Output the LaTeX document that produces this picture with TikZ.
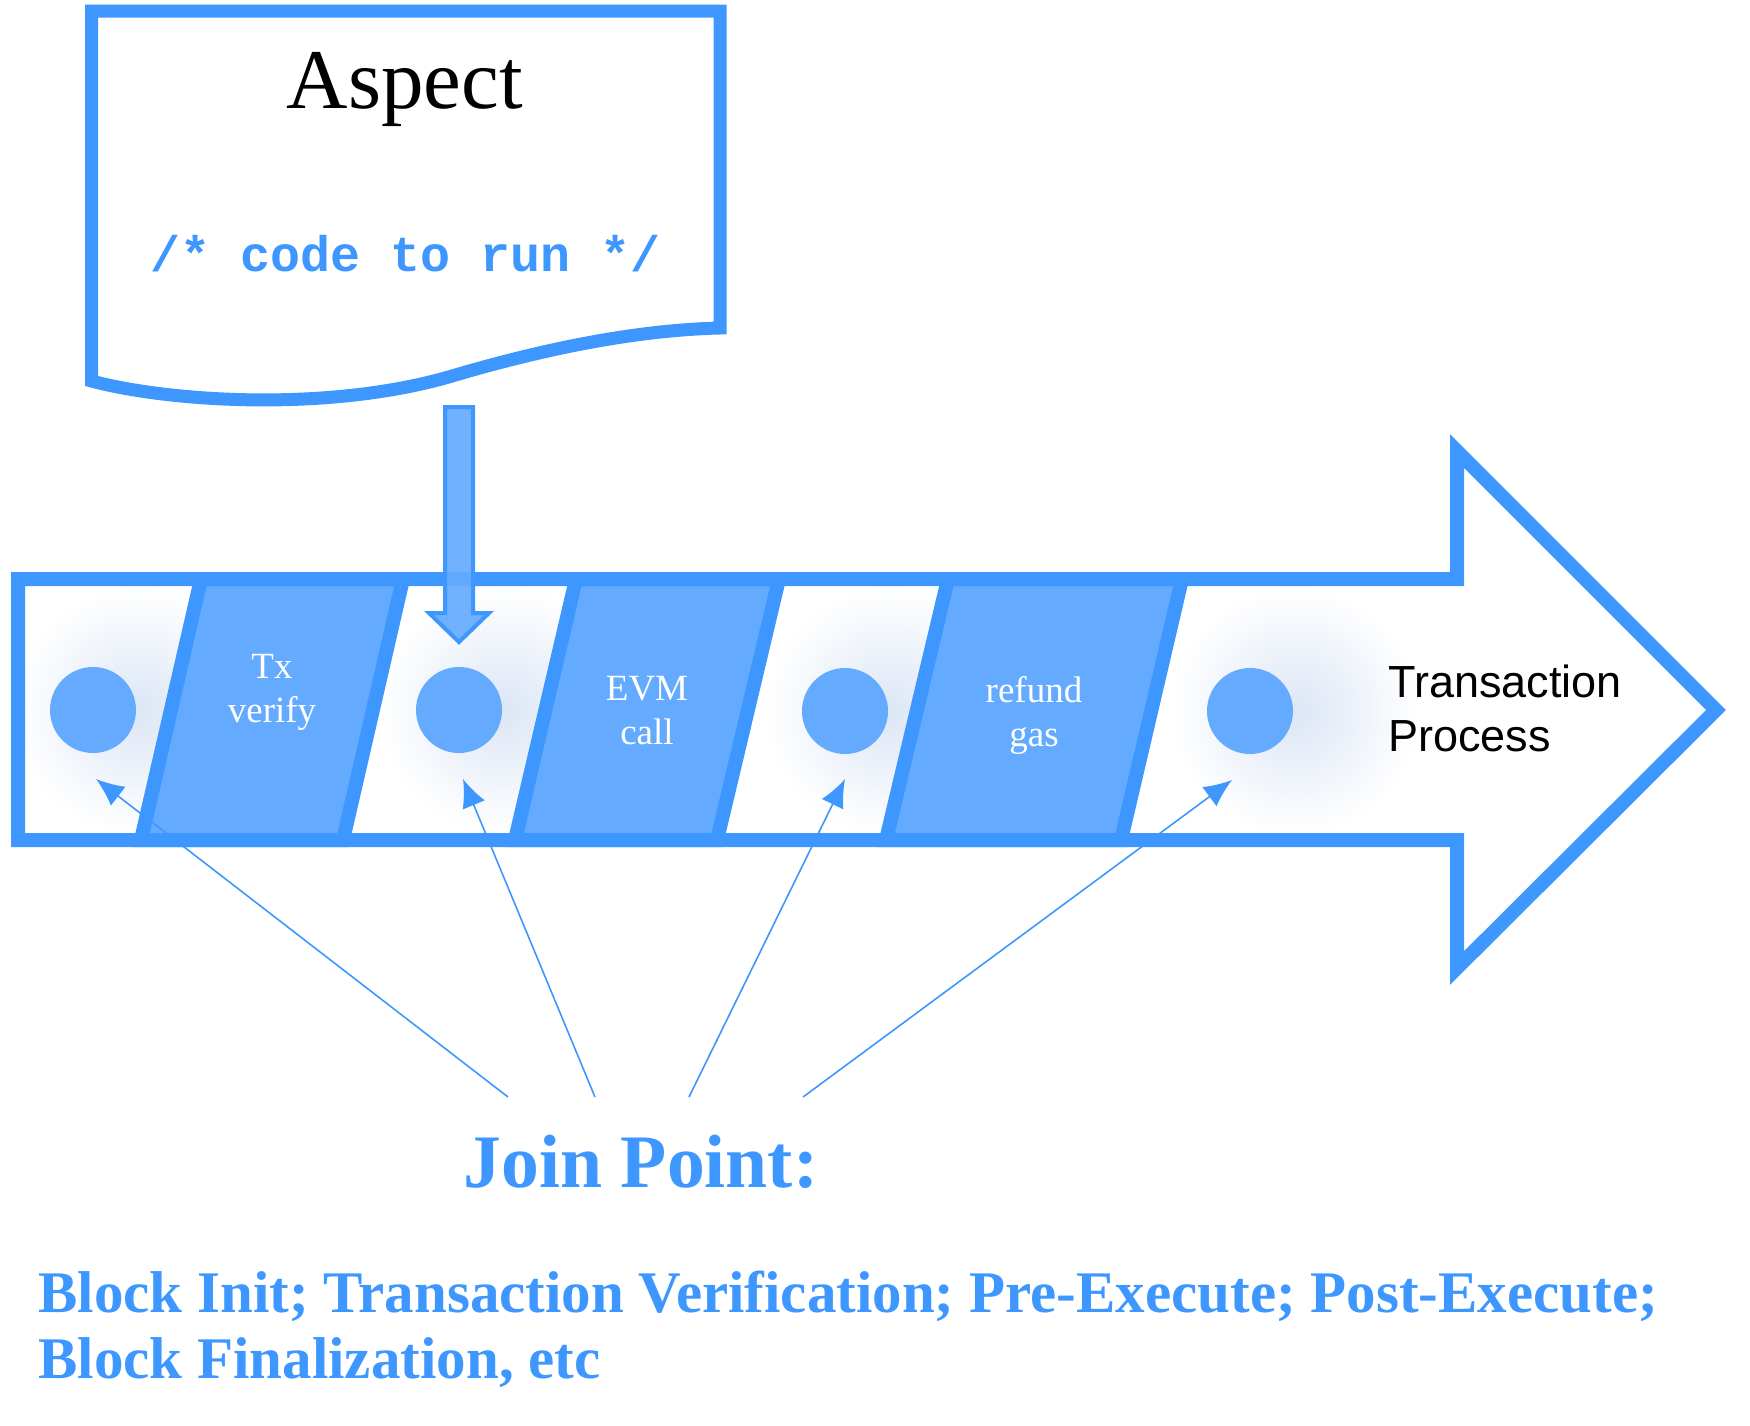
\documentclass[tikz,border=0pt]{standalone}
\usepackage{fontspec}
\setmainfont{Liberation Serif}
\setsansfont{Liberation Sans}
\setmonofont{Liberation Mono}
\usetikzlibrary{calc,arrows.meta,fadings}
\definecolor{aspblue}{RGB}{62,151,255}
\definecolor{aspfill}{RGB}{100,171,255}
\definecolor{aspglow}{RGB}{220,230,245}
\tikzfading[name=jpfade,inner color=transparent!0,outer color=transparent!100]

\begin{document}
\begin{tikzpicture}[x=0.5pt,y=-0.5pt,
  body/.style={draw=aspblue,line width=7pt,miter limit=10},
  stage/.style={fill=aspfill,draw=aspblue,line width=7pt},
  jpdot/.style={circle,fill=aspfill,inner sep=0pt,minimum size=43pt},
  glow/.style={fill=aspglow,path fading=jpfade},
  jparrow/.style={draw=aspblue,line width=0.8pt,-{Latex[length=14pt,width=12pt]}},
  stagetext/.style={white,align=center,anchor=base,inner sep=0pt,font=\fontsize{18.5pt}{22pt}\selectfont}]
\useasboundingbox (0,0) rectangle (1750,1425);

\coordinate (c1) at (93,710);
\coordinate (c2) at (459,710);
\coordinate (c3) at (845,711);
\coordinate (c4) at (1250,711);

\begin{scope}
\clip (25,586) rectangle (1450,833);
\fill[glow] ($(c1)+(45,0)$) circle (62pt);
\fill[glow] ($(c2)+(45,0)$) circle (62pt);
\fill[glow] ($(c3)+(45,0)$) circle (62pt);
\fill[glow] ($(c4)+(45,0)$) circle (62pt);
\end{scope}

\draw[stage] (141,840) -- (201,579) -- (403,579) -- (343,840) -- cycle;
\draw[stage] (515,840) -- (576,579) -- (779,579) -- (717,840) -- cycle;
\draw[stage] (886,840) -- (948,579) -- (1182,579) -- (1121,840) -- cycle;

\draw[body] (18,579) -- (1457,579) -- (1457,451) -- (1716,710)
  -- (1457,968) -- (1457,840) -- (18,840) -- cycle;

\node[jpdot] (jp1) at (c1) {};
\node[jpdot] (jp2) at (c2) {};
\node[jpdot] (jp3) at (c3) {};
\node[jpdot] (jp4) at (c4) {};

\node[stagetext] (tx) at (272,722) {Tx\\verify};
\node[stagetext] (evm) at (647,744) {EVM\\call};
\node[stagetext] (gas) at (1034,746) {refund\\gas};
\node[anchor=base west,align=left,inner sep=0pt,font=\sffamily\fontsize{22.5pt}{27pt}\selectfont]
  (trans) at (1388,751) {Transaction\\Process};

% aspect
\draw[draw=aspblue,line width=6.5pt] (91.5,11) -- (720,11) -- (720,328)
  .. controls (640,330) and (550,347) .. (452,376)
  .. controls (330,412) and (170,402) .. (91.5,381) -- cycle;
\node[anchor=base,inner sep=0pt,font=\fontsize{42.5pt}{50pt}\selectfont] (aspect) at (405,108) {Aspect};
\node[anchor=base,inner sep=0pt,aspblue,font=\ttfamily\bfseries\fontsize{25pt}{30pt}\selectfont] (code) at (406,271) {/* code to run */};

\draw[draw=aspblue,fill=aspfill,fill opacity=0.92,line width=2pt] (445,407) -- (473,407) -- (473,613)
  -- (489,613) -- (459,642) -- (429,613) -- (445,613) -- cycle;

\node[anchor=base west,inner sep=0pt,aspblue,font=\bfseries\fontsize{37.8pt}{45pt}\selectfont] (join) at (463,1187) {Join Point:};
\node[anchor=base west,align=left,inner sep=0pt,aspblue,font=\bfseries\fontsize{29.5pt}{33pt}\selectfont]
  (list) at (38,1378) {Block Init; Transaction Verification; Pre-Execute; Post-Execute;\\Block Finalization, etc};

\coordinate (s1) at (508,1097);
\coordinate (s2) at (595,1097);
\coordinate (s3) at (689,1097);
\coordinate (s4) at (803,1097);
\coordinate (t1) at (96,779);
\coordinate (t2) at (463,779);
\coordinate (t3) at (845,779);
\coordinate (t4) at (1232,780);
\draw[jparrow] (s1) -- (t1);
\draw[jparrow] (s2) -- (t2);
\draw[jparrow] (s3) -- (t3);
\draw[jparrow] (s4) -- (t4);

\end{tikzpicture}
\end{document}
